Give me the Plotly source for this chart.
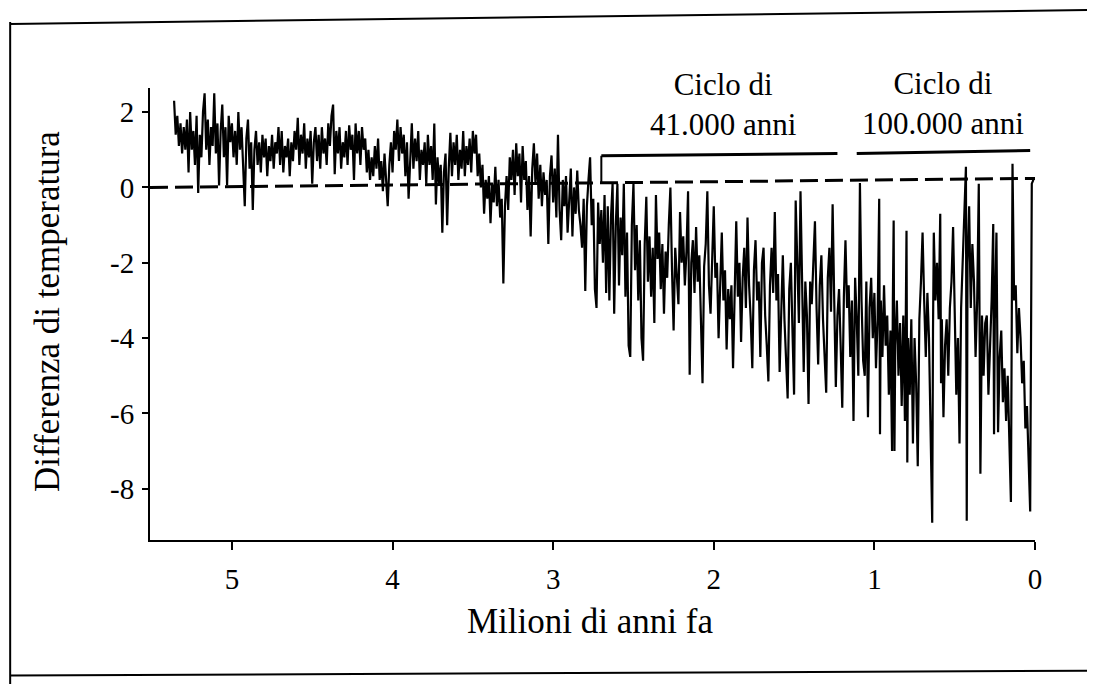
import plotly.graph_objects as go

# Age (million years ago) and temperature difference
ages = [
5.36,5.35,5.34,5.33,5.32,5.31,5.30,5.29,5.28,5.27,5.26,5.25,5.24,5.23,5.22,5.21,5.20,5.19,5.18,5.17,
5.16,5.15,5.14,5.13,5.12,5.11,5.10,5.09,5.08,5.07,5.06,5.05,5.04,5.03,5.02,5.01,5.00,4.99,4.98,4.97,
4.96,4.95,4.94,4.93,4.92,4.91,4.90,4.89,4.88,4.87,4.86,4.85,4.84,4.83,4.82,4.81,4.80,4.79,4.78,4.77,
4.76,4.75,4.74,4.73,4.72,4.71,4.70,4.69,4.68,4.67,4.66,4.65,4.64,4.63,4.62,4.61,4.60,4.59,4.58,4.57,
4.56,4.55,4.54,4.53,4.52,4.51,4.50,4.49,4.48,4.47,4.46,4.45,4.44,4.43,4.42,4.41,4.40,4.39,4.38,4.37,
4.36,4.35,4.34,4.33,4.32,4.31,4.30,4.29,4.28,4.27,4.26,4.25,4.24,4.23,4.22,4.21,4.20,4.19,4.18,4.17,
4.16,4.15,4.14,4.13,4.12,4.11,4.10,4.09,4.08,4.07,4.06,4.05,4.04,4.03,4.02,4.01,4.00,3.99,3.98,3.97,
3.96,3.95,3.94,3.93,3.92,3.91,3.90,3.89,3.88,3.87,3.86,3.85,3.84,3.83,3.82,3.81,3.80,3.79,3.78,3.77,
3.76,3.75,3.74,3.73,3.72,3.71,3.70,3.69,3.68,3.67,3.66,3.65,3.64,3.63,3.62,3.61,3.60,3.59,3.58,3.57,
3.56,3.55,3.54,3.53,3.52,3.51,3.50,3.49,3.48,3.47,3.46,3.45,3.44,3.43,3.42,3.41,3.40,3.39,3.38,3.37,
3.36,3.35,3.34,3.33,3.32,3.31,3.30,3.29,3.28,3.27,3.26,3.25,3.24,3.23,3.22,3.21,3.20,3.19,3.18,3.17,
3.16,3.15,3.14,3.13,3.12,3.11,3.10,3.09,3.08,3.07,3.06,3.05,3.04,3.03,3.02,3.01,3.00,2.99,2.98,2.97,
2.96,2.95,2.94,2.93,2.92,2.91,2.90,2.89,2.88,2.87,2.86,2.85,2.84,2.83,2.82,2.81,2.80,2.79,2.78,2.77,
2.76,2.75,2.74,2.73,2.72,2.71,2.70,2.69,2.68,2.67,2.66,2.65,2.64,2.63,2.62,2.61,2.60,2.59,2.58,2.57,
2.56,2.55,2.54,2.53,2.52,2.51,2.50,2.49,2.48,2.47,2.46,2.45,2.44,2.43,2.42,2.41,2.40,2.39,2.38,2.37,
2.36,2.35,2.34,2.33,2.32,2.31,2.30,2.29,2.28,2.27,2.26,2.25,2.24,2.23,2.22,2.21,2.20,2.19,2.18,2.17,
2.16,2.15,2.14,2.13,2.12,2.11,2.10,2.09,2.08,2.07,2.06,2.05,2.04,2.03,2.02,2.01,2.00,1.99,1.98,1.97,
1.96,1.95,1.94,1.93,1.92,1.91,1.90,1.89,1.88,1.87,1.86,1.85,1.84,1.83,1.82,1.81,1.80,1.79,1.78,1.77,
1.76,1.75,1.74,1.73,1.72,1.71,1.70,1.69,1.68,1.67,1.66,1.65,1.64,1.63,1.62,1.61,1.60,1.59,1.58,1.57,
1.56,1.55,1.54,1.53,1.52,1.51,1.50,1.49,1.48,1.47,1.46,1.45,1.44,1.43,1.42,1.41,1.40,1.39,1.38,1.37,
1.36,1.35,1.34,1.33,1.32,1.31,1.30,1.29,1.28,1.27,1.26,1.25,1.24,1.23,1.22,1.21,1.20,1.19,1.18,1.17,
1.16,1.15,1.14,1.13,1.12,1.11,1.10,1.09,1.08,1.07,1.06,1.05,1.04,1.03,1.02,1.01,1.00,0.99,0.98,0.97,
0.965,0.96,0.95,0.94,0.93,0.92,0.91,0.90,0.89,0.885,0.88,0.875,0.87,0.86,0.85,0.84,0.83,0.82,0.81,0.80,
0.795,0.79,0.78,0.77,0.76,0.75,0.74,0.73,0.72,0.71,0.70,0.69,0.68,0.67,0.66,0.65,0.64,0.635,0.63,0.62,
0.61,0.60,0.59,0.585,0.58,0.57,0.56,0.55,0.54,0.53,0.52,0.51,0.50,0.49,0.48,0.47,0.46,0.45,0.44,0.43,
0.425,0.42,0.41,0.40,0.39,0.38,0.37,0.36,0.35,0.34,0.33,0.32,0.31,0.30,0.29,0.28,0.27,0.26,0.255,0.25,
0.24,0.23,0.22,0.21,0.20,0.19,0.18,0.17,0.16,0.15,0.14,0.13,0.12,0.11,0.10,0.09,0.08,0.07,0.06,0.05,
0.04,0.03,0.02,0.01]

temps = [
2.3,1.4,1.9,1.1,1.7,0.9,1.6,1.0,1.8,0.4,2.0,1.0,1.5,0.6,1.9,-0.15,1.4,0.8,2.0,2.5,
1.0,1.8,0.6,1.6,1.1,2.5,0.9,1.7,0.05,1.5,2.2,0.8,1.6,0.05,1.9,1.2,1.7,0.8,1.5,0.6,
2.0,1.0,1.6,0.3,-0.5,1.3,1.8,0.5,1.2,-0.6,1.0,1.5,0.6,1.2,0.4,1.4,0.8,1.3,0.3,1.1,
0.7,1.4,0.5,1.2,0.9,1.6,0.6,1.5,0.4,1.1,0.8,1.3,0.3,1.2,0.7,1.5,1.0,1.85,0.6,1.4,
0.9,1.7,0.5,1.3,0.8,1.5,0.1,1.2,1.6,0.7,1.4,0.5,1.6,0.9,1.3,0.6,1.7,1.1,1.9,2.2,
0.35,1.5,0.9,1.6,0.5,1.2,0.8,1.5,0.6,1.65,1.0,1.4,0.2,1.7,0.9,1.5,0.6,1.6,1.0,1.3,
0.4,1.0,0.2,0.8,0.3,1.1,0.5,1.3,0.2,0.7,-0.1,0.9,0.3,-0.5,0.6,1.2,0.4,1.5,1.0,1.8,
0.7,1.6,0.9,1.4,0.3,1.2,-0.3,0.8,1.7,0.5,1.3,0.7,1.5,0.2,1.0,0.6,1.2,0.1,1.4,0.6,
1.1,0.2,1.7,-0.45,0.8,0.1,0.6,-1.2,0.4,0.9,-1.0,0.5,1.45,0.3,1.2,0.6,1.4,0.2,1.0,0.5,
1.5,0.3,1.1,0.6,1.3,0.4,1.5,0.9,1.4,0.3,0.9,0.0,0.6,-0.7,0.2,-0.3,0.3,-0.95,0.1,-0.4,
0.55,-0.5,0.2,-0.8,-0.3,-2.55,-0.5,0.3,-0.6,0.8,0.2,1.0,-0.2,1.17,0.3,0.9,-0.4,1.1,0.2,0.7,
-0.6,0.3,-1.3,0.5,1.17,0.1,0.9,-0.3,0.6,-0.5,0.4,-0.2,0.2,-1.5,0.3,0.85,-0.4,0.5,-0.8,1.4,
-0.6,-1.4,0.2,-0.5,0.3,-1.2,-0.2,0.5,-1.3,0.0,-0.7,0.45,-0.6,-1.0,-1.6,-0.3,-2.75,-0.5,0.2,0.8,
-1.0,-0.3,-2.7,-3.2,-0.4,-1.5,-0.6,-2.0,-0.2,-2.8,-0.5,-3.0,-0.8,0.1,-3.35,-1.0,0.1,-2.6,-0.8,-1.8,
0.1,-2.9,-1.2,-4.2,-4.5,-1.0,0.1,-2.2,-1.0,-3.0,-1.4,-4.0,-4.6,-1.5,-0.25,-2.5,-1.3,-2.9,-1.6,-3.6,
-0.2,-1.9,-1.2,-2.7,-1.5,-3.35,-1.7,-2.4,-1.0,0.0,-2.2,-3.8,-1.6,-2.5,-3.1,-0.65,-2.0,-1.3,-2.6,-1.7,
-0.1,-4.97,-2.0,-1.4,-2.8,-1.05,-2.5,-1.8,-3.5,-5.2,-2.1,-1.5,-0.1,-2.6,-3.35,-1.9,-0.5,-2.4,-2.0,-4.0,
-2.5,-1.2,-3.0,-2.2,-4.3,-2.7,-3.5,-2.6,-4.8,-2.5,-0.9,-2.9,-2.0,-4.1,-2.4,-1.6,-3.2,-0.8,-2.6,-3.5,
-4.8,-2.2,-1.4,-3.0,-2.5,-4.5,-2.0,-1.6,-3.4,-4.2,-5.15,-2.6,-1.6,-2.8,-0.65,-3.0,-2.3,-4.9,-3.0,-1.8,
-3.5,-4.4,-5.6,-2.7,-2.0,-3.8,-5.5,-0.35,-2.2,-3.6,-0.1,-3.0,-4.9,-2.5,-3.4,-5.75,-2.5,-3.1,-2.0,-0.9,
-3.2,-4.7,-2.6,-1.8,-3.5,-4.3,-5.45,-2.4,-1.6,-3.3,-0.45,-3.0,-5.3,-3.4,-2.7,-4.2,-5.85,-2.9,-1.4,-3.2,
-2.6,-4.5,-3.0,-6.2,-2.4,-3.5,-5.0,0.12,-3.0,-4.6,-5.0,-2.5,-6.1,-3.2,-2.4,-4.0,-2.8,-4.8,-3.5,-0.3,
-6.55,-3.0,-4.5,-2.6,-4.2,-3.4,-5.5,-3.8,-7.0,-3.0,-0.88,-7.0,-4.2,-3.0,-5.0,-3.6,-5.8,-3.4,-6.2,-1.15,
-7.3,-4.0,-5.5,-3.5,-6.8,-4.0,-5.2,-7.4,-3.5,-2.5,-1.2,-3.0,-4.5,-2.8,-4.0,-6.5,-8.9,-3.8,-1.2,-3.0,
-2.0,-3.5,-0.7,-5.2,-3.5,-6.1,-4.2,-3.5,-5.0,-3.2,-2.5,-1.05,-3.8,-5.5,-4.0,-6.8,-3.2,-2.0,-1.0,0.55,
-8.85,-2.0,-0.5,-3.2,-1.5,-2.5,-4.5,-3.0,0.1,-7.6,-3.4,-5.0,-3.6,-3.4,-5.5,-4.2,-3.0,-0.97,-6.55,-3.5,
-1.2,-6.5,-4.5,-3.8,-5.7,-4.8,-6.2,-5.0,-7.0,-8.35,0.63,-3.0,-2.6,-4.4,-3.2,-4.0,-5.2,-4.6,-6.4,-5.8,
-7.2,-8.6,0.1,0.2]

y_ticks = [2, 0, -2, -4, -6, -8]
y_tick_text = ["2", "0", "-2", "-4", "-6", "-8"]
x_ticks = [5, 4, 3, 2, 1, 0]
x_tick_text = ["5", "4", "3", "2", "1", "0"]

# bracket annotations (age span, bar level)
brackets = [
    {"start": 2.70, "end": 1.23, "level": [0.84, 0.90], "label": "Ciclo di<br>41.000 anni", "cx": 1.94},
    {"start": 1.11, "end": 0.03, "level": [0.90, 0.98], "label": "Ciclo di<br>100.000 anni", "cx": 0.57},
]

FONT = "Liberation Serif"

fig = go.Figure()
fig.add_trace(go.Scatter(x=ages, y=temps, mode="lines",
                         line=dict(color="black", width=2.2), showlegend=False,
                         hoverinfo="skip"))

# dashed zero reference line (slightly tilted as in the scan)
fig.add_shape(type="line", x0=5.51, x1=0.0, y0=0.0, y1=0.24, xref="x", yref="y",
              line=dict(color="black", width=3, dash="18px,7px"))

for b in brackets:
    fig.add_shape(type="line", x0=b["start"], x1=b["end"], y0=b["level"][0], y1=b["level"][1],
                  xref="x", yref="y", line=dict(color="black", width=3))
fig.add_shape(type="line", x0=brackets[0]["start"], x1=brackets[0]["start"],
              y0=brackets[0]["level"][0], y1=0.1, xref="x", yref="y",
              line=dict(color="black", width=2))

fig.add_annotation(x=brackets[0]["cx"], y=2.2, xref="x", yref="y", text=brackets[0]["label"],
                   showarrow=False, font=dict(family=FONT, size=31, color="black"),
                   align="center", xanchor="center", yanchor="middle")
fig.add_annotation(x=brackets[1]["cx"], y=2.24, xref="x", yref="y", text=brackets[1]["label"],
                   showarrow=False, font=dict(family=FONT, size=31, color="black"),
                   align="center", xanchor="center", yanchor="middle")

# axis titles
fig.add_annotation(x=-0.115, y=0.505, xref="paper", yref="paper", text="Differenza di temperatura",
                   textangle=-90, showarrow=False, font=dict(family=FONT, size=35, color="black"),
                   xanchor="center", yanchor="middle")
fig.add_annotation(x=0.497, y=-0.181, xref="paper", yref="paper", text="Milioni di anni fa",
                   showarrow=False, font=dict(family=FONT, size=35, color="black"),
                   xanchor="center", yanchor="middle")

# scan frame lines
fig.add_shape(type="line", xref="paper", yref="paper", x0=-0.158, x1=-0.158, y0=1.146, y1=-0.33,
              line=dict(color="black", width=2))
fig.add_shape(type="line", xref="paper", yref="paper", x0=-0.158, x1=1.07, y0=1.1416, y1=1.1726,
              line=dict(color="black", width=2))
fig.add_shape(type="line", xref="paper", yref="paper", x0=-0.158, x1=1.07, y0=-0.30, y1=-0.289,
              line=dict(color="black", width=2))

# page has an 8px body margin, so the figure is reduced by 8px to keep the plot in place
fig.update_layout(
    width=1087, height=676,
    margin=dict(l=142, r=60, t=80, b=144),
    paper_bgcolor="white", plot_bgcolor="white",
    font=dict(family=FONT, color="black"),
    xaxis=dict(range=[5.51, 0.0], tickvals=x_ticks, ticktext=x_tick_text,
               showline=True, linecolor="black", linewidth=2, ticks="outside",
               ticklen=8, tickwidth=2, tickcolor="black", showgrid=False, zeroline=False,
               tickfont=dict(family=FONT, size=29, color="black"), ticklabelstandoff=4),
    yaxis=dict(range=[-9.36, 2.64], tickvals=y_ticks, ticktext=y_tick_text,
               showline=True, linecolor="black", linewidth=2, ticks="outside",
               ticklen=6, tickwidth=2, tickcolor="black", showgrid=False, zeroline=False,
               tickfont=dict(family=FONT, size=29, color="black"), ticklabelstandoff=2),
)

fig.write_html("out.html")
